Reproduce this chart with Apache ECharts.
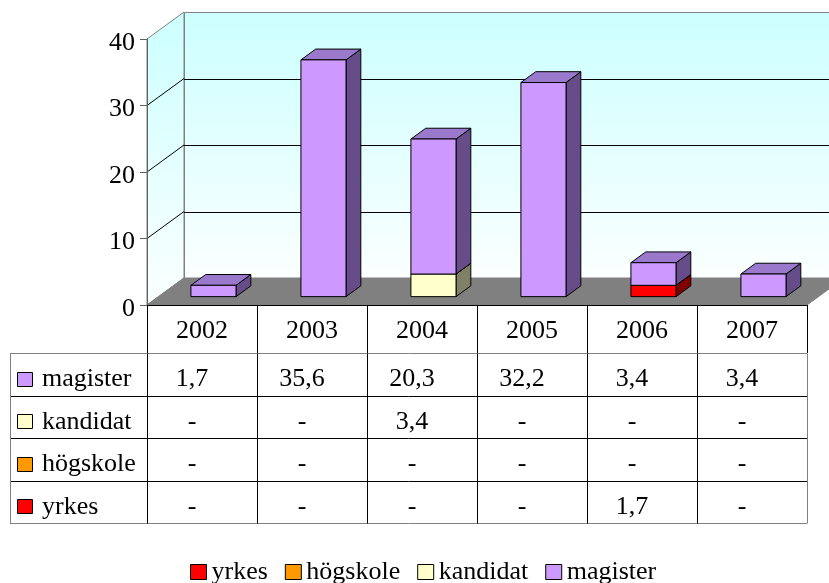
<!DOCTYPE html>
<html>
<head>
<meta charset="utf-8">
<script src="https://cdn.jsdelivr.net/npm/echarts@6/dist/echarts.min.js"></script>
<style>
html,body{margin:0;padding:0;background:#fff;}
#chart{width:829px;height:583px;}
</style>
</head>
<body>
<div id="chart"></div>
<script>
// ---- data ----
const categories = ['2002', '2003', '2004', '2005', '2006', '2007'];
const magister = [1.7, 35.6, 20.3, 32.2, 3.4, 3.4];
const kandidat = [null, null, 3.4, null, null, null];
const hogskole = [null, null, null, null, null, null];
const yrkes = [null, null, null, null, 1.7, null];
const yTicks = [0, 10, 20, 30, 40];

const seriesNames = ['yrkes', 'högskole', 'kandidat', 'magister'];   // stacking order bottom -> top
const seriesValues = [yrkes, hogskole, kandidat, magister];
const tableRows = ['magister', 'kandidat', 'högskole', 'yrkes'];
const tableValues = [magister, kandidat, hogskole, yrkes];

// ---- styles ----
const FONT = 'Liberation Serif';
const FS = 26;
const COLORS = {
  'yrkes':    {front: '#FF0000', top: '#C00000', side: '#800000'},
  'högskole': {front: '#FF9900', top: '#C07300', side: '#804C00'},
  'kandidat': {front: '#FFFFCC', top: '#C0C099', side: '#808066'},
  'magister': {front: '#CC99FF', top: '#9A78CC', side: '#664C88'}
};
const DX = 37, DY = -27;              // 3D depth of the plot box
const FRONT_F = 0.31, DEPTH_F = 0.40; // bar position / depth as fraction of box depth
const BAR_W = 0.41;                   // bar width as fraction of band

function fmt(v) { return v == null ? '-' : v.toFixed(1).replace('.', ','); }
function px(v) { return Math.round(v) + 0.5; }

// stacked bar data
const stackBase = categories.map(() => 0);
const barSeries = seriesNames.map((name, s) => {
  const data = categories.map((c, i) => {
    const v = seriesValues[s][i];
    const base = stackBase[i];
    if (v != null) stackBase[i] += v;
    return [i, base, v == null ? null : base + v];
  });
  const col = COLORS[name];
  return {
    name: name,
    type: 'custom',
    z: 3,
    clip: false,
    itemStyle: {color: col.front},
    encode: {x: 0, y: [1, 2]},
    data: data,
    renderItem: function (params, api) {
      const i = api.value(0), b = api.value(1), t = api.value(2);
      if (t == null || isNaN(t)) return;
      const p0 = api.coord([i, b]);
      const p1 = api.coord([i, t]);
      const band = api.size([1, 0])[0];
      const w = band * BAR_W;
      const fx = DX * FRONT_F, fy = DY * FRONT_F;
      const bx = DX * DEPTH_F, by = DY * DEPTH_F;
      const L = p0[0] - w / 2 + fx, R = L + w;
      const B = p0[1] + fy, T = p1[1] + fy;
      const st = {stroke: '#000', lineWidth: 1};
      return {
        type: 'group',
        children: [
          {type: 'polygon', shape: {points: [[R, B], [R + bx, B + by], [R + bx, T + by], [R, T]]},
            style: Object.assign({fill: col.side}, st)},
          {type: 'polygon', shape: {points: [[L, T], [R, T], [R + bx, T + by], [L + bx, T + by]]},
            style: Object.assign({fill: col.top}, st)},
          {type: 'rect', shape: {x: L, y: T, width: w, height: B - T},
            style: Object.assign({fill: col.front}, st)}
        ]
      };
    }
  };
});

function frameRender(params, api) {
  const cs = params.coordSys;
  const x0 = cs.x, x1 = cs.x + cs.width, yT = cs.y, yB = cs.y + cs.height;
  const grad = () => new echarts.graphic.LinearGradient(0, 0, 0, 1, [
    {offset: 0, color: '#CCFFFF'}, {offset: 1, color: '#FBFFFF'}]);
  const ch = [];
  ch.push({type: 'rect', shape: {x: px(x0 + DX), y: px(yT + DY), width: cs.width, height: cs.height},
    style: {fill: grad(), stroke: '#808080', lineWidth: 1}});
  ch.push({type: 'polygon', shape: {points: [[x0, yB], [x0, yT], [x0 + DX, yT + DY], [x0 + DX, yB + DY]]},
    style: {fill: grad(), stroke: '#808080', lineWidth: 1}});
  yTicks.forEach(v => {
    if (v <= 0 || v >= 40) return;
    const y = api.coord([0, v])[1];
    ch.push({type: 'line', shape: {x1: x0 + DX, y1: px(y + DY), x2: x1 + DX, y2: px(y + DY)},
      style: {stroke: '#000', lineWidth: 1}});
    ch.push({type: 'line', shape: {x1: x0, y1: y, x2: x0 + DX, y2: y + DY},
      style: {stroke: '#000', lineWidth: 1}});
  });
  ch.push({type: 'polygon', shape: {points: [[x0, yB], [x1, yB], [x1 + DX, yB + DY], [x0 + DX, yB + DY]]},
    style: {fill: '#808080', stroke: '#808080', lineWidth: 1}});

  // ---- data table ----
  const band = api.size([1, 0])[0];
  const tLeft = 10, headH = 48, rowH = 42.5;
  const top = yB + headH;
  const bottom = top + rowH * tableRows.length;
  const font = FS + 'px "' + FONT + '"';
  tableRows.forEach((name, r) => {
    const ry = top + r * rowH;
    const yc = ry + rowH / 2 + 5;
    ch.push({type: 'rect', shape: {x: 17.5, y: Math.round(yc - 7.5) + 0.5, width: 15, height: 14},
      style: {fill: COLORS[name].front, stroke: '#000', lineWidth: 1}});
    ch.push({type: 'text', style: {x: 42, y: yc, text: name, font: font,
      fill: '#000', textAlign: 'left', textVerticalAlign: 'middle'}});
    categories.forEach((c, i) => {
      const cx = api.coord([i, 0])[0] - 10;
      ch.push({type: 'text', style: {x: cx, y: yc, text: fmt(tableValues[r][i]), font: font,
        fill: '#000', textAlign: 'center', textVerticalAlign: 'middle'}});
    });
  });
  for (let r = 0; r <= tableRows.length; r++) {
    const y = px(top + r * rowH);
    const outer = (r === 0 || r === tableRows.length);
    ch.push({type: 'line', shape: {x1: tLeft, y1: y, x2: x1, y2: y},
      style: {stroke: outer ? '#808080' : '#000', lineWidth: 1}});
  }
  ch.push({type: 'line', shape: {x1: px(tLeft), y1: px(top), x2: px(tLeft), y2: px(bottom)},
    style: {stroke: '#808080', lineWidth: 1}});
  for (let k = 0; k <= categories.length; k++) {
    const x = px(x0 + k * band);
    ch.push({type: 'line', shape: {x1: x, y1: px(top), x2: x, y2: px(bottom)},
      style: {stroke: k === categories.length ? '#808080' : '#000', lineWidth: 1}});
  }
  return {type: 'group', children: ch};
}

const chart = echarts.init(document.getElementById('chart'), null, {renderer: 'canvas'});
chart.setOption({
  animation: false,
  backgroundColor: '#fff',
  grid: {left: 147, right: 22, top: 39, bottom: 278},
  xAxis: {
    type: 'category',
    data: categories,
    axisLine: {lineStyle: {color: '#000'}},
    axisTick: {show: true, length: 48, lineStyle: {color: '#000'}},
    axisLabel: {fontFamily: FONT, fontSize: FS, color: '#000', margin: 0, lineHeight: 53}
  },
  yAxis: {
    type: 'value', min: 0, max: 40, interval: 10,
    axisLine: {show: true, lineStyle: {color: '#606060'}},
    axisTick: {show: true, length: 7, lineStyle: {color: '#606060'}},
    splitLine: {show: false},
    axisLabel: {fontFamily: FONT, fontSize: FS, color: '#000', margin: 12,
      verticalAlign: 'top', lineHeight: 8}
  },
  legend: {
    data: seriesNames,
    left: 185, top: 554,
    icon: 'rect', itemWidth: 16, itemHeight: 15, itemGap: 17,
    itemStyle: {borderColor: '#000', borderWidth: 1},
    textStyle: {fontFamily: FONT, fontSize: FS, color: '#000'},
    selectedMode: false
  },
  series: [{
    type: 'custom', name: 'frame', z: 0, silent: true, clip: false,
    encode: {x: 0, y: 1}, data: [[0, 0]], renderItem: frameRender
  }].concat(barSeries)
});
</script>
</body>
</html>
